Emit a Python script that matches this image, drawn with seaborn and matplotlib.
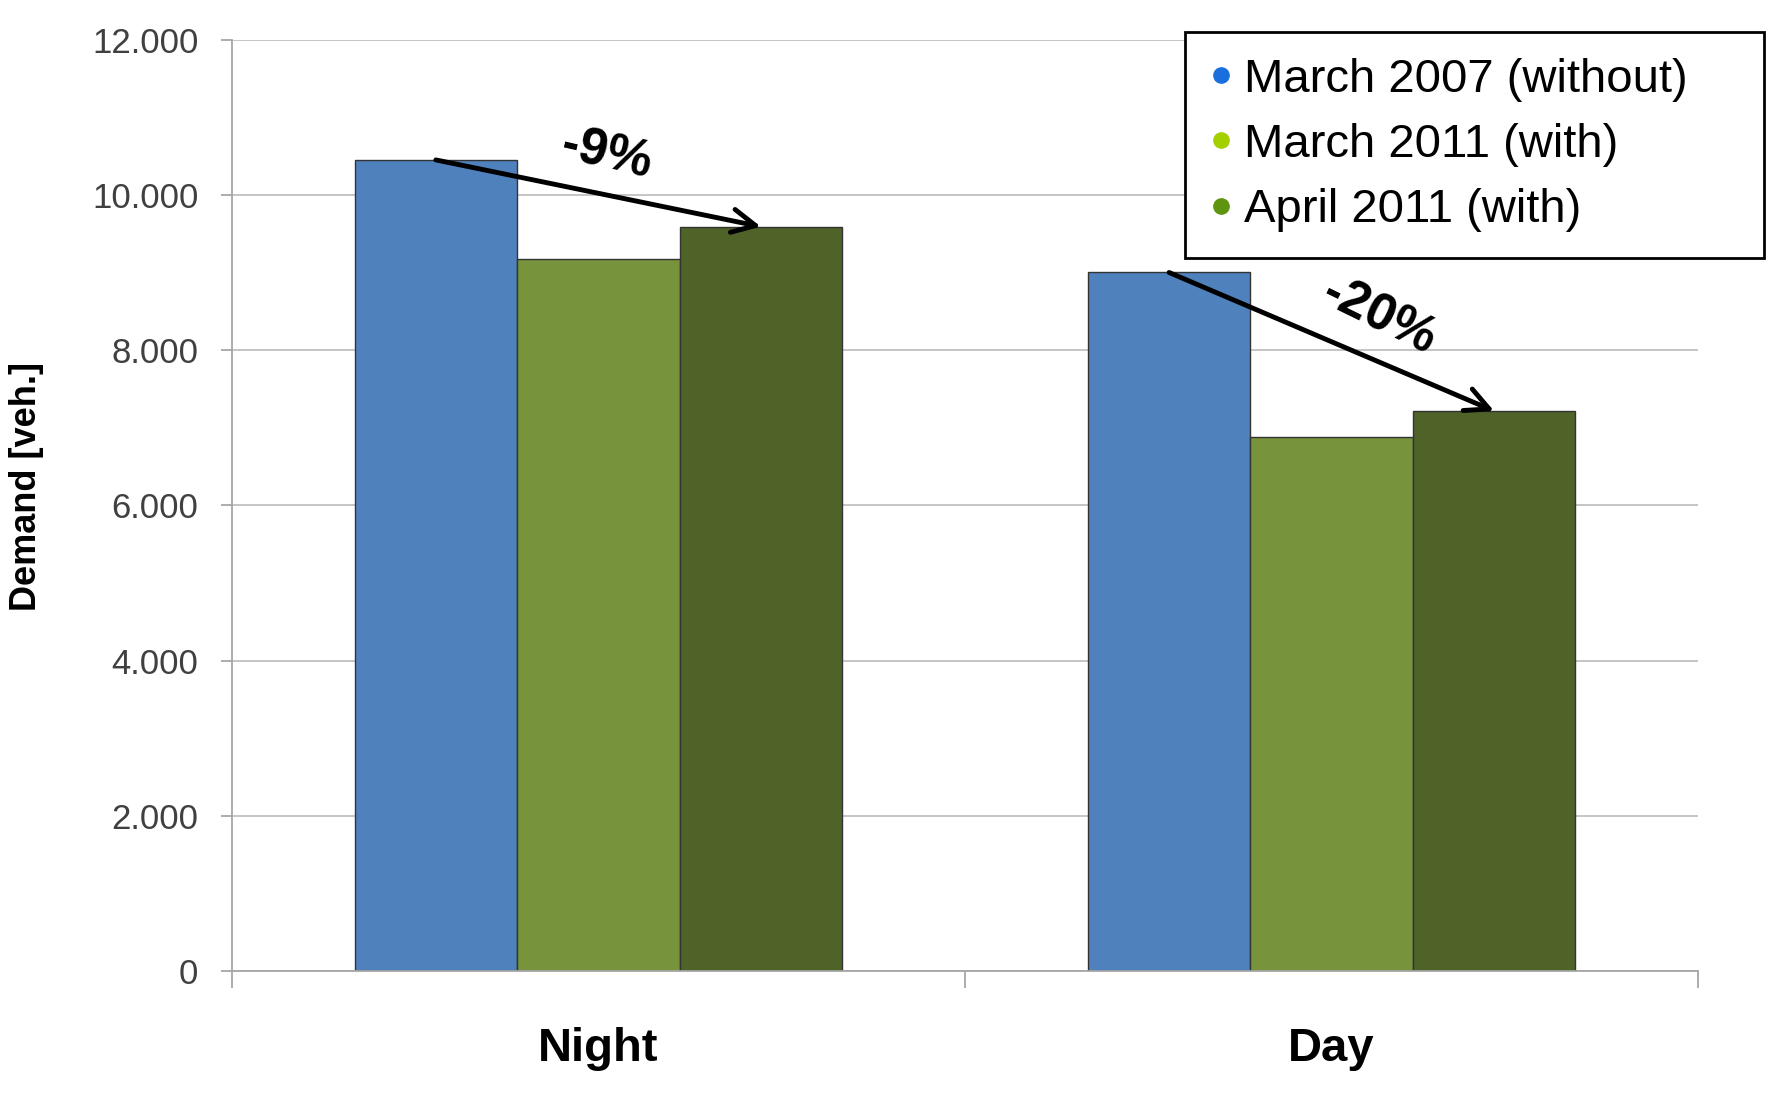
import numpy as np
import pandas as pd
import seaborn as sns
import matplotlib.pyplot as plt
from matplotlib.lines import Line2D
from matplotlib.ticker import FuncFormatter

# Values
periods = ["Night", "Day"]
series = ["March 2007 (without)", "March 2011 (with)", "April 2011 (with)"]
march_2007 = [10450, 9000]
march_2011 = [9180, 6880]
april_2011 = [9590, 7215]
changes = ["-9%", "-20%"]

bar_colors = ["#4f81bd", "#77933c", "#4f6228"]
dot_colors = ["#1a6fdf", "#a5d000", "#5e9410"]

df = pd.DataFrame({
    "period": periods * 3,
    "series": np.repeat(series, len(periods)),
    "demand": march_2007 + march_2011 + april_2011,
})

sns.set_style("white")
plt.rcParams["font.family"] = ["Liberation Sans", "DejaVu Sans"]
plt.rcParams["text.color"] = "black"
plt.rcParams["axes.labelcolor"] = "black"
plt.rcParams["xtick.color"] = "black"

fig = plt.figure(figsize=(17.69, 11.15), dpi=100)
ax = fig.add_axes([0.131, 0.129, 0.829, 0.8355])

sns.barplot(data=df, x="period", y="demand", hue="series", order=periods,
            hue_order=series, palette=dict(zip(series, bar_colors)),
            saturation=1, width=0.665, legend=False,
            edgecolor="#333333", linewidth=1, ax=ax)

ax.set_xlim(-0.5, 1.5)
ax.set_ylim(0, 12000)
ax.set_yticks(range(0, 12001, 2000))
ax.yaxis.set_major_formatter(FuncFormatter(lambda v, p: f"{int(v):,}".replace(",", ".")))
ax.grid(axis="y", color="#c0c0c0", lw=1.3)
ax.set_axisbelow(True)
for s in ["top", "right"]:
    ax.spines[s].set_visible(False)
for s in ["left", "bottom"]:
    ax.spines[s].set_color("#a6a6a6")
    ax.spines[s].set_linewidth(1.3)

ax.set_xticks([0, 1])
ax.set_xticklabels(periods, fontsize=34, fontweight="bold", color="black")
ax.set_xticks([-0.5, 0.5, 1.5], minor=True)
ax.tick_params(axis="x", which="major", length=0, pad=40)
ax.tick_params(axis="x", which="minor", length=12, color="#a6a6a6", width=1.3,
               bottom=True)
ax.tick_params(axis="y", length=8, color="#a6a6a6", width=1.3, labelsize=25,
               labelcolor="#404040", pad=16, left=True)
ax.set_xlabel("")
ax.set_ylabel("Demand [veh.]", fontsize=26, fontweight="bold", color="black")
ax.yaxis.set_label_coords(-0.128, 0.52)

# arrows from the 2007 bar to the April 2011 bar
first, last = ax.containers[0], ax.containers[2]
text_offsets = [(6, 28), (34, 18)]
rotations = [-13, -26]
for i, label in enumerate(changes):
    b0, b2 = first[i], last[i]
    x0 = b0.get_x() + b0.get_width() / 2
    x2 = b2.get_x() + b2.get_width() / 2
    y0, y2 = b0.get_height(), b2.get_height()
    ax.annotate("", xy=(x2, y2), xytext=(x0, y0),
                arrowprops=dict(arrowstyle="->", lw=3.5, color="black",
                                mutation_scale=42, shrinkA=0, shrinkB=0))
    ax.annotate(label, xy=((x0 + x2) / 2, (y0 + y2) / 2),
                xytext=text_offsets[i], textcoords="offset points",
                ha="center", va="center", fontsize=37, fontweight="bold",
                rotation=rotations[i], color="black")

handles = [Line2D([], [], ls="", marker="o", ms=11, mfc=c, mec=c) for c in dot_colors]
leg = fig.legend(handles, series, loc="upper left",
                 bbox_to_anchor=(0.670, 0.763, 0.327, 0.2086), mode="expand",
                 fontsize=34, frameon=True, fancybox=False, edgecolor="black",
                 handlelength=0.4, handletextpad=0.3, labelspacing=0.45,
                 borderpad=0.55, borderaxespad=0, framealpha=1)
leg.get_frame().set_linewidth(2)
for t in leg.get_texts():
    t.set_color("black")

fig.savefig("out.png", dpi=100)
